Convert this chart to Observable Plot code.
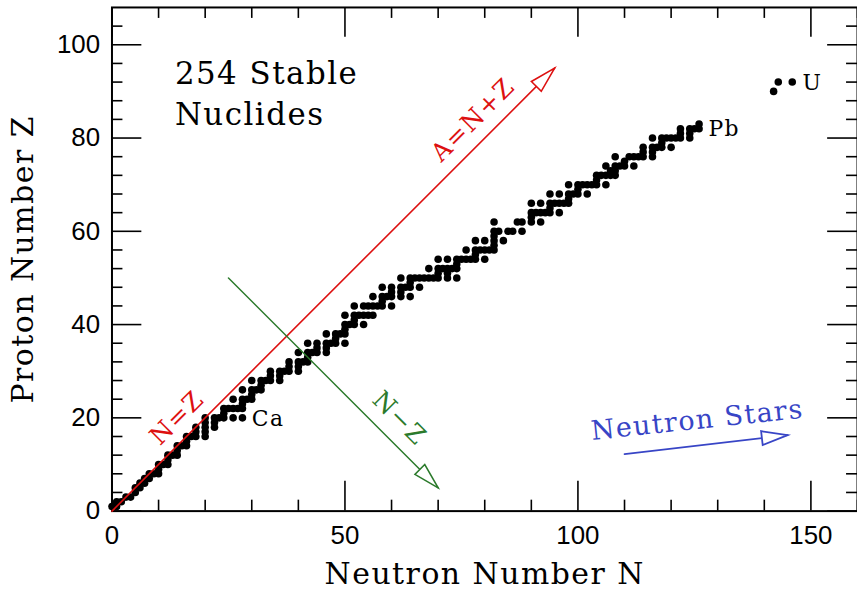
<!DOCTYPE html>
<html>
<head>
<meta charset="utf-8">
<script src="https://cdn.jsdelivr.net/npm/d3@7"></script>
<script src="https://cdn.jsdelivr.net/npm/@observablehq/plot@0.6"></script>
<style>
html, body { margin: 0; padding: 0; background: #fff; overflow: hidden; }
#chart svg { display: block; }
g[font-family="DejaVu Serif"] text { letter-spacing: 1.5px; }
</style>
</head>
<body>
<div id="chart"></div>
<script>
// ---------------- data ----------------
// proton number Z of each element with stable nuclides
const elementZ = [1,2,3,4,5,6,7,8,9,10,11,12,13,14,15,16,17,18,19,20,
  21,22,23,24,25,26,27,28,29,30,31,32,33,34,35,36,37,38,39,40,41,42,
  44,45,46,47,48,49,50,51,52,53,54,55,56,57,58,59,60,62,63,64,65,66,
  67,68,69,70,71,72,73,74,75,76,77,78,79,80,81,82,83,90,92];
// neutron numbers N of the stable isotopes of each element (same order)
const stableN = [
  [0,1],[1,2],[3,4],[5],[5,6],[6,7],[7,8],[8,9,10],[10],[10,11,12],
  [12],[12,13,14],[14],[14,15,16],[16],[16,17,18,20],[18,20],[18,20,22],[20,22],[20,22,23,24,26,28],
  [24],[24,25,26,27,28],[28],[26,28,29,30],[30],[28,30,31,32],[32],[30,32,33,34,36],[34,36],[34,36,37,38,40],
  [38,40],[38,40,41,42],[42],[40,42,43,44,46],[44,46],[42,44,46,47,48,50],[48],[46,48,49,50],[50],[50,51,52,54],
  [52],[50,52,53,54,55,56],
  [52,54,55,56,57,58,60],[58],[56,58,59,60,62,64],[60,62],[58,60,62,63,64,66],[64],
  [62,64,65,66,67,68,69,70,72,74],[70,72],[68,70,71,72,73,74],[74],[70,72,74,75,76,77,78,80],[78],
  [76,78,79,80,81,82],[82],[78,80,82,84],[82],[82,83,85,86,88],[82,87,88,90,92],[90],
  [90,91,92,93,94,96],[94],[90,92,94,95,96,97,98],[98],[94,96,98,99,100,102],[100],
  [98,100,101,102,103,104,106],[104],[104,105,106,107,108],[107,108],[106,108,109,110,112],[110],
  [108,111,112,113,114,116],[114,116],[114,116,117,118,120],[118],[116,118,119,120,121,122,124],
  [122,124],[122,124,125,126],[126],[142],[143,146]
];

// axis ticks
const xTickLabels = [0, 50, 100, 150];
const xMinorTicks = [10, 20, 30, 40, 60, 70, 80, 90, 110, 120, 130, 140, 160];
const yTickLabels = [0, 20, 40, 60, 80, 100];
const yMinorTicks = [4, 8, 12, 16, 24, 28, 32, 36, 44, 48, 52, 56, 64, 68, 72, 76, 84, 88, 92, 96, 104];

// guide arrows (start, end)
const nzLineN = [0, 95],     nzLineZ = [0, 95];
const diffLineN = [25, 70],  diffLineZ = [50, 5];
const nsLineN = [110, 145],  nsLineZ = [12.2, 16.3];

// annotations
const noteText = ["254 Stable\nNuclides"];
const noteN = [13.5], noteZ = [90];
const elemLabels = ["Ca", "Pb", "U"];
const elemLabelN = [30, 128, 148.2];
const elemLabelZ = [19.7, 82, 91.8];
const redLabels = ["A=N+Z", "N=Z"];
const redLabelN = [77.5, 14];
const redLabelZ = [83.9, 20];
const greenLabel = ["N\u2212Z"], greenLabelN = [61.7], greenLabelZ = [19.9];
const blueLabel = ["Neutron Stars"], blueLabelN = [125.6], blueLabelZ = [19.5];

// ---------------- build tables ----------------
const nuclides = [];
elementZ.forEach((z, i) => stableN[i].forEach(n => nuclides.push({N: n, Z: z})));
const seg = (ns, zs) => ns.map((n, i) => ({N: n, Z: zs[i]}));
const pts = (ts, ns, zs) => ts.map((t, i) => ({t, N: ns[i], Z: zs[i]}));

// ---------------- layout ----------------
const W = 861, H = 591, mL = 112, mR = 0, mT = 7, mB = 78;
const PW = W - mL - mR, PH = H - mT - mB;
const serif = "DejaVu Serif";
const RED = "#dd1010", GREEN = "#2b7a2b", BLUE = "#3845c6";

// hollow elongated arrowhead symbol, tip at origin, pointing up
const headSymbol = {
  draw(ctx) {
    ctx.moveTo(0, 0);
    ctx.lineTo(7, 26);
    ctx.lineTo(-7, 26);
    ctx.closePath();
  }
};

const arrow = (ns, zs, color, angle, sw) => [
  Plot.line(seg(ns, zs), {x: "N", y: "Z", stroke: color, strokeWidth: sw}),
  Plot.dot([seg(ns, zs)[1]], {x: "N", y: "Z", symbol: headSymbol, rotate: angle,
    fill: "white", stroke: color, strokeWidth: sw, r: 5})
];

const chart = Plot.plot({
  width: W, height: H,
  marginLeft: mL, marginRight: mR, marginTop: mT, marginBottom: mB,
  x: {domain: [0, 160]},
  y: {domain: [0, 108]},
  style: {background: "white", overflow: "visible"},
  marks: [
    // tick labels
    Plot.axisX({anchor: "bottom", ticks: xTickLabels, tickSize: 0, tickPadding: 15, label: null,
      fontSize: 26, fontFamily: "Liberation Sans", fill: "black"}),
    Plot.axisY({anchor: "left", ticks: yTickLabels, tickSize: 0, tickPadding: 12, label: null,
      fontSize: 26, fontFamily: "Liberation Sans", fill: "black"}),
    // inward ticks on all four sides
    Plot.tickX(xTickLabels, {x: d => d, insetTop: PH - 30, stroke: "black", strokeWidth: 1.6}),
    Plot.tickX(xMinorTicks, {x: d => d, insetTop: PH - 11, stroke: "black", strokeWidth: 1.6}),
    Plot.tickX(xTickLabels, {x: d => d, insetBottom: PH - 30, stroke: "black", strokeWidth: 1.6}),
    Plot.tickX(xMinorTicks, {x: d => d, insetBottom: PH - 11, stroke: "black", strokeWidth: 1.6}),
    Plot.tickY(yTickLabels, {y: d => d, insetRight: PW - 30, stroke: "black", strokeWidth: 1.6}),
    Plot.tickY(yMinorTicks, {y: d => d, insetRight: PW - 11, stroke: "black", strokeWidth: 1.6}),
    Plot.tickY(yTickLabels, {y: d => d, insetLeft: PW - 30, stroke: "black", strokeWidth: 1.6}),
    Plot.tickY(yMinorTicks, {y: d => d, insetLeft: PW - 11, stroke: "black", strokeWidth: 1.6}),
    Plot.frame({stroke: "black", strokeWidth: 2}),
    // axis titles
    Plot.text(["Neutron Number N"], {frameAnchor: "bottom", dy: 64, textAnchor: "middle", lineAnchor: "middle",
      fontSize: 30, fontFamily: serif, fill: "black"}),
    Plot.text(["Proton Number Z"], {frameAnchor: "left", dx: -89, rotate: -90, textAnchor: "middle", lineAnchor: "middle",
      fontSize: 30, fontFamily: serif, fill: "black"}),
    // nuclides
    Plot.dot(nuclides, {x: "N", y: "Z", r: 3.8, fill: "black", stroke: null}),
    // guide arrows
    ...arrow(nzLineN, nzLineZ, RED, 45, 1.6),
    ...arrow(diffLineN, diffLineZ, GREEN, 135, 1.5),
    ...arrow(nsLineN, nsLineZ, BLUE, 83.4, 1.8),
    // annotations
    Plot.text(pts(noteText, noteN, noteZ), {x: "N", y: "Z", text: "t", textAnchor: "start",
      lineHeight: 1.32, fontSize: 31, fontFamily: serif, fill: "black"}),
    Plot.text(pts(elemLabels, elemLabelN, elemLabelZ), {x: "N", y: "Z", text: "t", textAnchor: "start",
      fontSize: 22, fontFamily: serif, fill: "black"}),
    Plot.text(pts(redLabels, redLabelN, redLabelZ), {x: "N", y: "Z", text: "t", rotate: -45,
      fontSize: 25, fontFamily: serif, fill: RED}),
    Plot.text(pts(greenLabel, greenLabelN, greenLabelZ), {x: "N", y: "Z", text: "t", rotate: 45,
      fontSize: 25, fontFamily: serif, fill: GREEN}),
    Plot.text(pts(blueLabel, blueLabelN, blueLabelZ), {x: "N", y: "Z", text: "t", rotate: -6,
      fontSize: 27, fontFamily: serif, fill: BLUE})
  ]
});
document.getElementById("chart").append(chart);
</script>
</body>
</html>
